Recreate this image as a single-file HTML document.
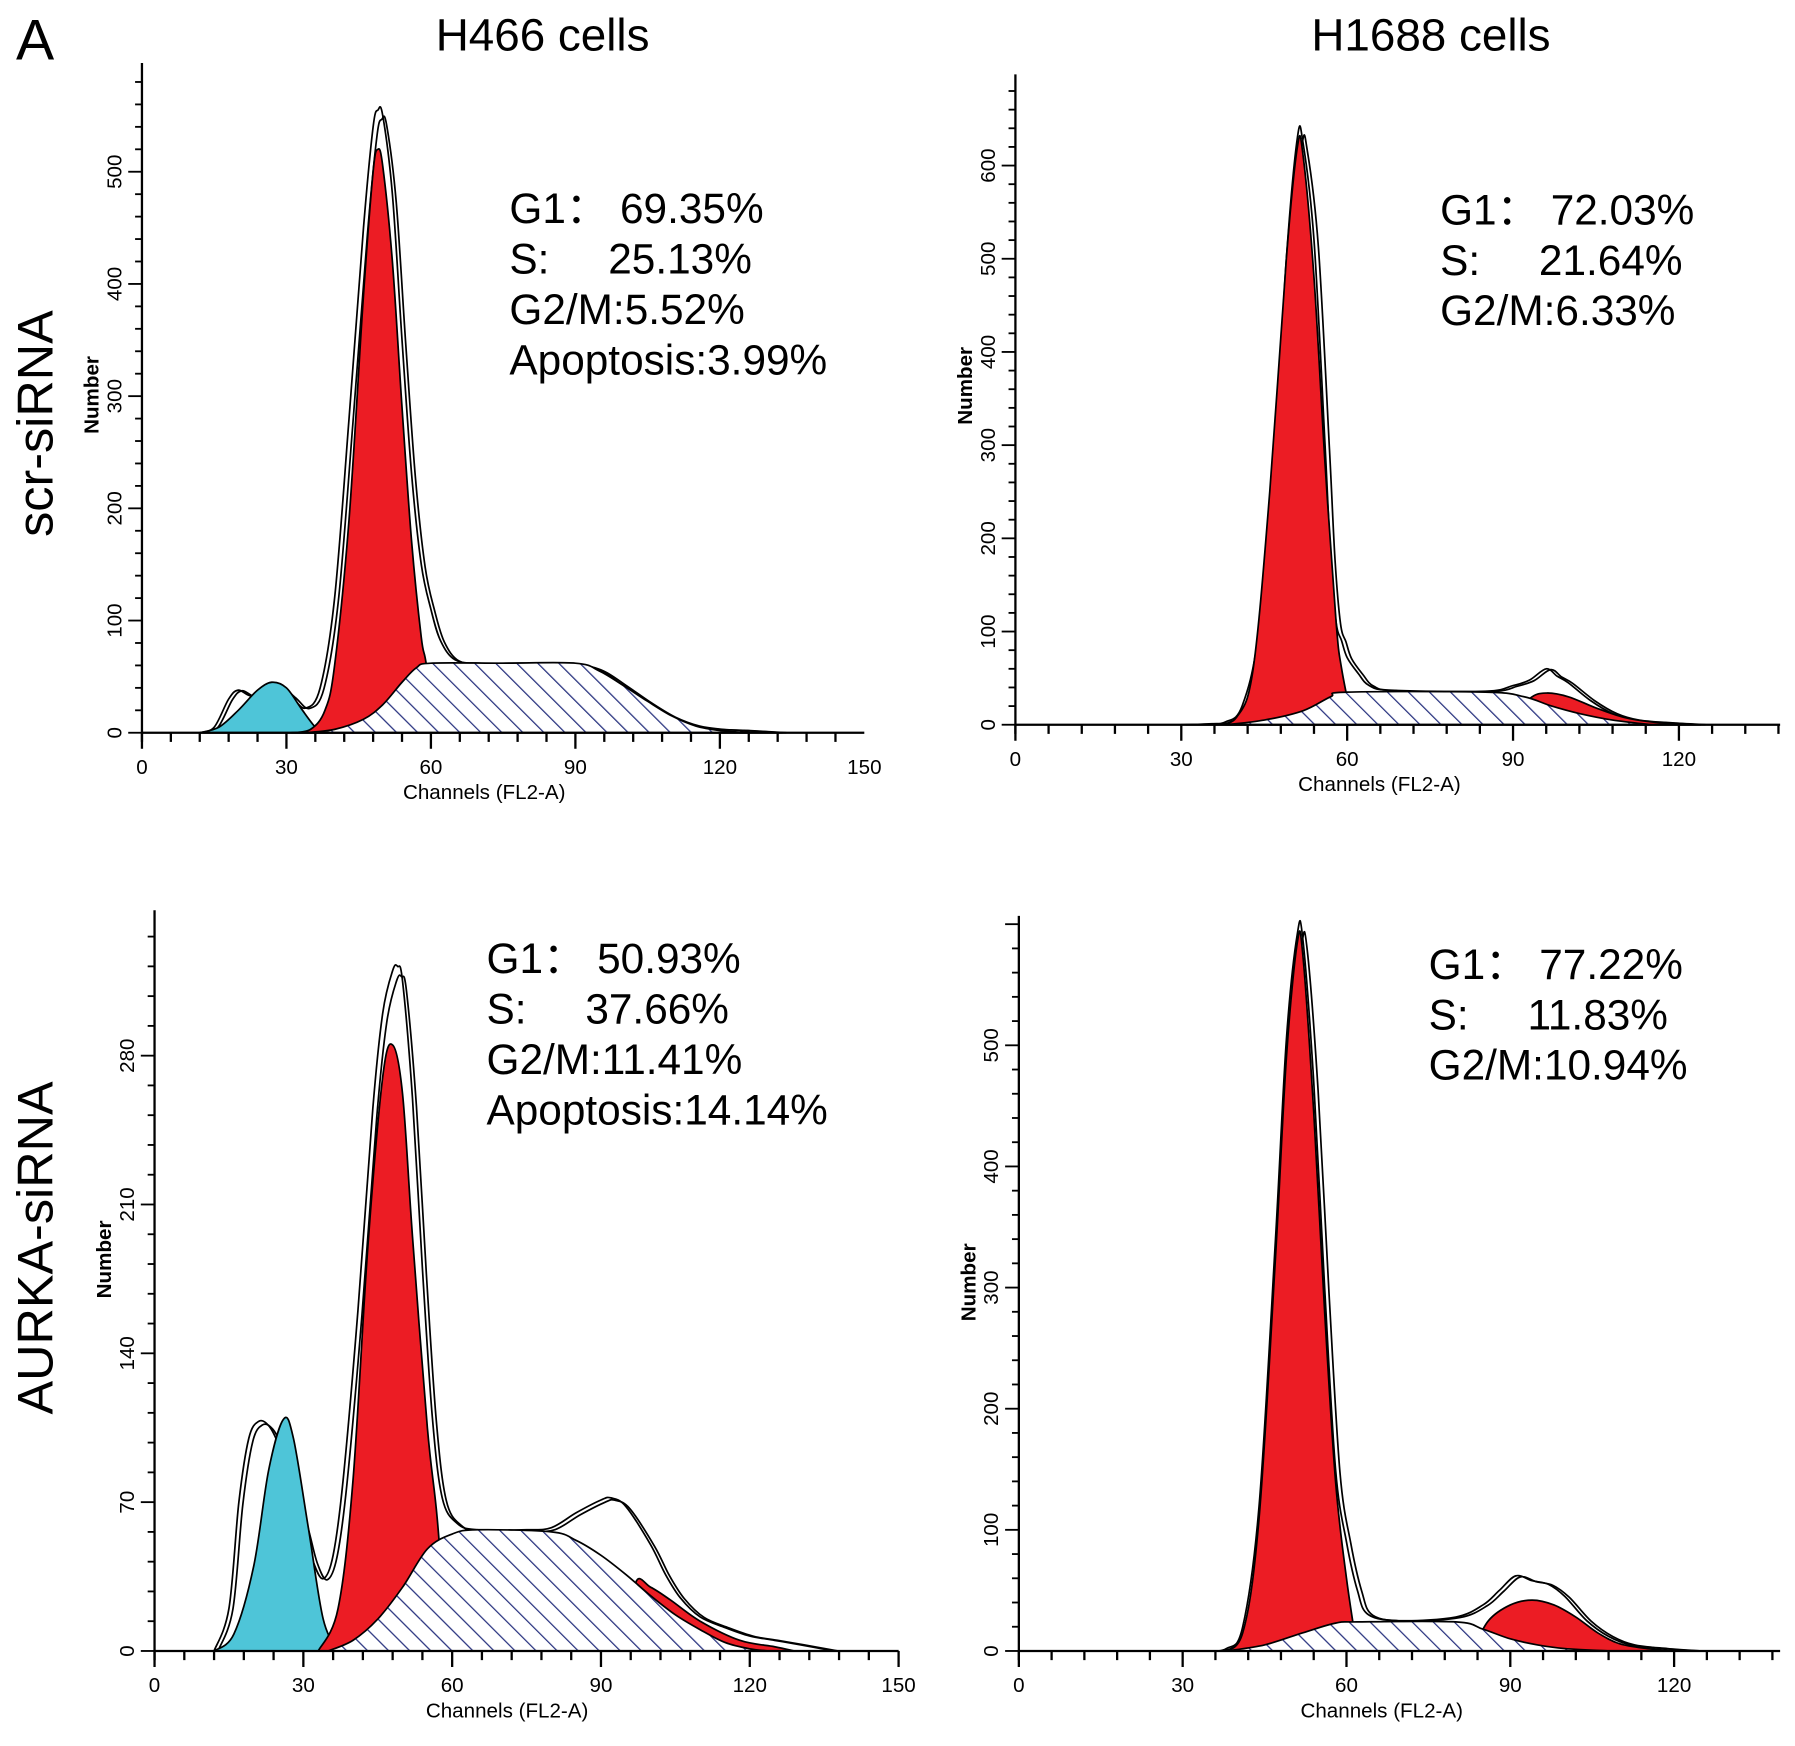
<!DOCTYPE html>
<html><head><meta charset="utf-8"><style>
html,body{margin:0;padding:0;background:#fff}
svg{display:block}
text{font-family:"Liberation Sans",sans-serif;fill:#000}
.tick{font-family:"Liberation Sans Narrow","Liberation Sans",sans-serif;font-size:18px}
.stat{font-size:37px}
</style></head><body>
<svg id="fig" width="1795" height="1746" viewBox="0 0 1568 1525" preserveAspectRatio="none">
<defs>
<pattern id="hatch" patternUnits="userSpaceOnUse" width="13" height="13" patternTransform="rotate(-45)">
<rect width="13" height="13" fill="#fff"/><line x1="0" y1="0" x2="0" y2="13" stroke="#2a3480" stroke-width="2.2"/>
</pattern>
</defs>
<text x="14" y="52" font-size="50">A</text>
<text x="474" y="44" font-size="40" text-anchor="middle">H466 cells</text>
<text x="1250" y="44" font-size="40" text-anchor="middle">H1688 cells</text>
<text transform="translate(46,370) rotate(-90)" font-size="44" text-anchor="middle">scr-siRNA</text>
<text transform="translate(46,1090) rotate(-90)" font-size="44" text-anchor="middle">AURKA-siRNA</text>
<g id="plots"></g>
</svg>
<script>
// ---- Panel TL: H466 scr-siRNA ----
const tlEnv=[[12,0],[15,5],[18,30],[20,38],[23,33],[27,45],[31,32],[34,22],[37,40],[40,120],[43,280],[46,450],[48,540],[49,555],[50,550],[52,480],[54,350],[56,230],[58,150],[60,110],[62,82],[65,65],[70,62],[80,62],[90,61],[95,56],[100,42],[105,27],[110,14],[115,6],[120,3],[125,2],[133,0]];
const tlApo=[[12,0],[16,5],[20,20],[24,38],[27,45],[30,40],[33,22],[36,5],[38,0]];
const tlG1=[[31,0],[35,3],[38,20],[40,60],[43,190],[46,390],[48,500],[49,520],[50,505],[52,420],[54,290],[56,170],[58,85],[59,62],[61,0]];
const tlS=[[34,0],[40,3],[46,12],[50,25],[54,45],[57,58],[60,62],[75,62],[90,62],[95,55],[100,42],[105,28],[110,15],[115,6],[120,2],[126,0]];
const tlG2=[[124,0],[125,2],[126,0]];
const tlStats=["G1\uFF1A 69.35%","S:     25.13%","G2/M:5.52%","Apoptosis:3.99%"];
const tlYTicks=[0,100,200,300,400,500];
const tlXTicks=[0,30,60,90,120,150];
// ---- Panel TR: H1688 scr-siRNA ----
const trEnv=[[30,0],[35,1],[38,3],[41,20],[44,100],[47,300],[49,500],[51,630],[52,625],[54,520],[56,300],[57,180],[58,110],[59,90],[60,72],[62,55],[64,42],[68,37],[85,36],[90,42],[93,48],[96,60],[98,52],[100,45],[104,26],[108,12],[112,5],[118,2],[124,0]];
const trApo=[];
const trG1=[[36,0],[40,8],[43,60],[46,250],[49,500],[51,620],[52,612],[54,480],[56,280],[58,110],[59,60],[61,0]];
const trS=[[38,0],[45,5],[52,15],[57,30],[60,35],[85,35],[92,30],[97,20],[102,12],[108,5],[115,0]];
const trG2=[[89,0],[93,28],[96,34],[100,30],[105,18],[110,8],[115,3],[120,1],[122,0]];
const trStats=["G1\uFF1A 72.03%","S:     21.64%","G2/M:6.33%"];
const trYTicks=[0,100,200,300,400,500,600];
const trXTicks=[0,30,60,90,120];
// ---- Panel BL: H466 AURKA-siRNA ----
const blEnv=[[12,0],[15,20],[17,70],[19,100],[21,108],[23,106],[25,97],[27,82],[30,60],[32,42],[34,34],[36,45],[38,80],[41,160],[44,255],[46,300],[48,320],[49,322],[50,315],[52,260],[54,180],[56,110],[58,72],[61,60],[65,57],[75,57],[80,58],[85,65],[90,71],[92,72],[95,68],[100,50],[103,36],[106,25],[110,16],[115,11],[120,7],[125,5],[130,3],[137,0]];
const blApo=[[12,0],[16,8],[20,40],[23,85],[26,109],[28,100],[31,58],[34,15],[37,0]];
const blG1=[[33,0],[37,20],[40,80],[43,190],[46,270],[48,285],[50,262],[52,195],[55,105],[57,62],[59,0]];
const blS=[[35,0],[40,5],[45,15],[50,30],[55,48],[60,55],[65,57],[80,56],[85,52],[90,45],[95,36],[100,26],[105,17],[110,10],[115,4],[120,1],[124,0]];
const blG2=[[96,0],[97,32],[100,30],[104,24],[110,14],[118,5],[125,2],[129,0]];
const blStats=["G1\uFF1A 50.93%","S:     37.66%","G2/M:11.41%","Apoptosis:14.14%"];
const blYTicks=[0,70,140,210,280];
const blXTicks=[0,30,60,90,120,150];
// ---- Panel BR: H1688 AURKA-siRNA ----
const brEnv=[[34,0],[38,2],[41,20],[44,120],[47,340],[49,505],[51,592],[52,588],[54,470],[56,300],[58,150],[60,90],[62,50],[64,30],[70,25],[80,28],[85,38],[88,50],[91,62],[94,58],[97,55],[100,45],[104,25],[108,12],[112,5],[118,2],[124,0]];
const brApo=[];
const brG1=[[37,0],[41,15],[44,110],[47,325],[49,490],[51,585],[52,575],[54,445],[56,280],[58,140],[60,60],[62,0]];
const brS=[[38,0],[45,5],[52,15],[58,23],[62,24],[80,24],[85,18],[90,10],[95,5],[100,2],[108,0]];
const brG2=[[83,0],[86,25],[90,38],[94,42],[98,38],[102,28],[106,15],[110,6],[115,2],[120,0]];
const brStats=["G1\uFF1A 77.22%","S:     11.83%","G2/M:10.94%"];
const brYTicks=[0,100,200,300,400,500];
const brXTicks=[0,30,60,90,120];

const NS="http://www.w3.org/2000/svg";
const root=document.getElementById('plots');
function mk(tag,attrs,parent){const e=document.createElementNS(NS,tag);for(const k in attrs)e.setAttribute(k,attrs[k]);parent.appendChild(e);return e;}
function smooth(pts){
  if(pts.length<2)return "";
  let d="M"+pts[0][0]+","+pts[0][1];
  for(let i=0;i<pts.length-1;i++){
    const p0=pts[i-1]||pts[i],p1=pts[i],p2=pts[i+1],p3=pts[i+2]||p2;
    const c1=[p1[0]+(p2[0]-p0[0])/6,p1[1]+(p2[1]-p0[1])/6];
    const c2=[p2[0]-(p3[0]-p1[0])/6,p2[1]-(p3[1]-p1[1])/6];
    d+=" C"+c1[0]+","+c1[1]+" "+c2[0]+","+c2[1]+" "+p2[0]+","+p2[1];
  }
  return d;
}
function panel(key,c){
  const g=mk('g',{},root);
  
  
  const X=v=>c.x0+v*c.sx, Y=v=>c.y0-v*c.sy;
  const area=(data,fill,name,stroke)=>{
    if(!data.length)return;
    const pts=data.map(p=>[X(p[0]),Math.min(Y(p[1]),c.y0)]);
    const d=smooth(pts)+" L"+pts[pts.length-1][0]+","+c.y0+" L"+pts[0][0]+","+c.y0+" Z";
    const e=mk('path',{d:d,fill:fill,stroke:stroke||'#000','stroke-width':1.5},g);
    
    
  };
  area(c.env.map(p=>[p[0]+0.8,p[1]*0.985]),'#fff',key+'-envelope-2');
  area(c.env,'none',key+'-envelope');
  area(c.apo,'#4ec5d8',key+'-apoptosis-peak');
  area(c.g1,'#ec1c24',key+'-g1-peak');
  area(c.g2,'#ec1c24',key+'-g2m-peak');
  area(c.s,'url(#hatch)',key+'-s-phase');
  const ax=mk('line',{x1:c.x0,y1:c.y0,x2:c.xEnd,y2:c.y0,stroke:'#000','stroke-width':2},g);
  
  
  const ay=mk('line',{x1:c.x0,y1:c.y0+8,x2:c.x0,y2:c.yTop,stroke:'#000','stroke-width':2},g);
  
  
  const maxCh=(c.xEnd-c.x0)/c.sx;
  for(let v=0;v<=maxCh+0.01;v+=6){
    const major=(v%30===0);
    mk('line',{x1:X(v),y1:c.y0,x2:X(v),y2:c.y0+(major?14:8),stroke:'#000','stroke-width':2},g);
  }
  c.xt.forEach(v=>{
    const t=mk('text',{x:X(v),y:c.y0+36,'text-anchor':'middle',class:'tick'},g);
    t.textContent=v;
    
    
  });
  const step=c.yt[1]-c.yt[0];const maxV=(c.y0-c.yTop)/c.sy;
  for(let v=0;v<=maxV;v+=step/5){
    mk('line',{x1:c.x0-((Math.abs(v%step)<1e-6)?12:6),y1:Y(v),x2:c.x0,y2:Y(v),stroke:'#000','stroke-width':1.6},g);
  }
  c.yt.forEach(v=>{
    const t=mk('text',{transform:'translate('+(c.x0-18)+','+Y(v)+') rotate(-90)','text-anchor':'middle',class:'tick'},g);
    t.textContent=v;
    
    
  });
  const xt=mk('text',{x:c.xTitle,y:c.y0+58,'text-anchor':'middle',class:'tick','font-size':'21'},g);
  xt.textContent='Channels (FL2-A)';
  
  
  const yt=mk('text',{transform:'translate('+(c.x0-38)+','+c.yLab+') rotate(-90)','text-anchor':'middle',class:'tick','font-size':'20','font-weight':'bold'},g);
  yt.textContent='Number';
  
  
  c.stats.forEach((s,i)=>{
    const t=mk('text',{x:c.sxT,y:c.syT+i*44,class:'stat','xml:space':'preserve'},g);
    t.style.whiteSpace='pre';
    t.textContent=s;
    
    
  });
}
panel('h466-scr',{x0:124,y0:640,sx:4.207,sy:0.98,xEnd:755,yTop:55,env:tlEnv,apo:tlApo,g1:tlG1,s:tlS,g2:tlG2,stats:tlStats,yt:tlYTicks,xt:tlXTicks,sxT:445,syT:195,xTitle:423,yLab:345});
panel('h1688-scr',{x0:887,y0:633,sx:4.83,sy:0.814,xEnd:1555,yTop:65,env:trEnv,apo:trApo,g1:trG1,s:trS,g2:trG2,stats:trStats,yt:trYTicks,xt:trXTicks,sxT:1258,syT:196,xTitle:1205,yLab:337});
panel('h466-aurka',{x0:135,y0:1442,sx:4.333,sy:1.857,xEnd:785,yTop:795,env:blEnv,apo:blApo,g1:blG1,s:blS,g2:blG2,stats:blStats,yt:blYTicks,xt:blXTicks,sxT:425,syT:850,xTitle:443,yLab:1100});
panel('h1688-aurka',{x0:890,y0:1442,sx:4.77,sy:1.058,xEnd:1555,yTop:800,env:brEnv,apo:brApo,g1:brG1,s:brS,g2:brG2,stats:brStats,yt:brYTicks,xt:brXTicks,sxT:1248,syT:855,xTitle:1207,yLab:1120});
</script>
</body></html>
